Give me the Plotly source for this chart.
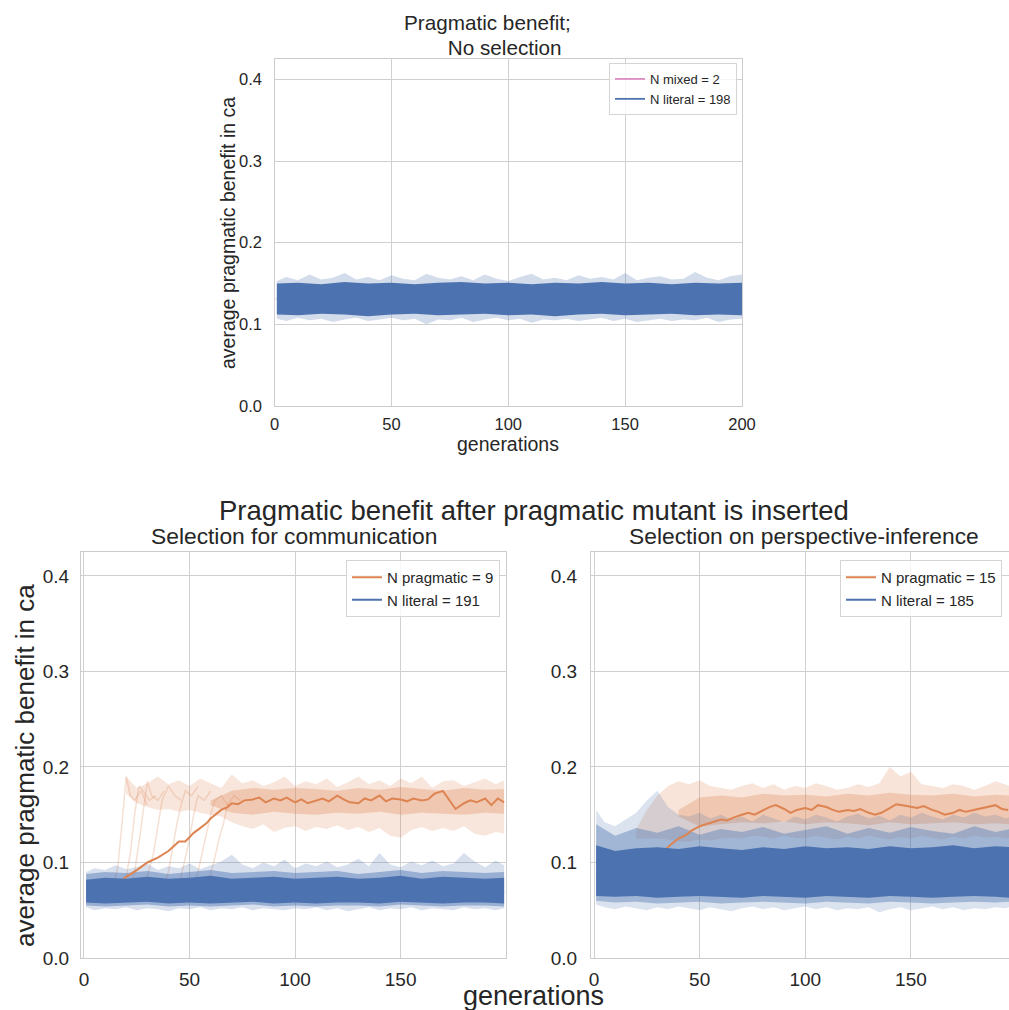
import plotly.graph_objects as go

# ---------------- data ----------------
# Top panel: no selection
top_gens = [1] + list(range(5, 201, 5))
top_upper = [0.153, 0.158, 0.154, 0.161, 0.155, 0.157, 0.163, 0.155, 0.158, 0.154,
             0.160, 0.156, 0.154, 0.162, 0.157, 0.155, 0.159, 0.154, 0.161, 0.156,
             0.153, 0.158, 0.162, 0.155, 0.157, 0.154, 0.160, 0.156, 0.158, 0.155,
             0.163, 0.154, 0.157, 0.159, 0.155, 0.156, 0.164, 0.157, 0.154, 0.159,
             0.161]
top_lower = [0.107, 0.104, 0.108, 0.105, 0.107, 0.103, 0.106, 0.108, 0.104, 0.106,
             0.108, 0.105, 0.107, 0.100, 0.106, 0.105, 0.108, 0.103, 0.106, 0.108,
             0.105, 0.107, 0.102, 0.106, 0.105, 0.107, 0.104, 0.106, 0.108, 0.104,
             0.107, 0.103, 0.105, 0.107, 0.104, 0.106, 0.105, 0.108, 0.103, 0.106,
             0.107]
top_core_gens = [1] + list(range(10, 201, 10))
top_core_upper = [0.150, 0.151, 0.149, 0.152, 0.150, 0.151, 0.149, 0.151, 0.152, 0.150,
                  0.151, 0.149, 0.151, 0.150, 0.152, 0.150, 0.151, 0.149, 0.151, 0.150, 0.151]
top_core_lower = [0.112, 0.111, 0.113, 0.112, 0.110, 0.112, 0.113, 0.111, 0.112, 0.113,
                  0.111, 0.112, 0.110, 0.112, 0.113, 0.111, 0.112, 0.113, 0.111, 0.112, 0.111]
top_literal_mean = [0.131, 0.132, 0.130, 0.131, 0.132, 0.131, 0.130, 0.131, 0.132, 0.131,
                    0.130, 0.131, 0.132, 0.131, 0.130, 0.131, 0.131, 0.132, 0.130, 0.131, 0.131]
top_mixed_mean = [0.133, 0.128, 0.135, 0.130, 0.127, 0.134, 0.131, 0.129, 0.136, 0.130,
                  0.128, 0.133, 0.131, 0.129, 0.134, 0.130, 0.132, 0.128, 0.133, 0.131, 0.130]

# Bottom-left: selection for communication
bl_gens = [1] + list(range(5, 196, 5)) + [199]
bl_upper = [0.090, 0.094, 0.092, 0.097, 0.093, 0.095, 0.099, 0.092, 0.096, 0.094,
            0.099, 0.093, 0.097, 0.101, 0.108, 0.098, 0.094, 0.100, 0.096, 0.103,
            0.094, 0.099, 0.096, 0.101, 0.095, 0.098, 0.104, 0.096, 0.110, 0.098,
            0.095, 0.101, 0.097, 0.102, 0.096, 0.099, 0.110, 0.101, 0.095, 0.102,
            0.097]
bl_lower = [0.053, 0.050, 0.052, 0.051, 0.053, 0.050, 0.052, 0.051, 0.049, 0.052,
            0.051, 0.053, 0.050, 0.052, 0.051, 0.053, 0.050, 0.052, 0.051, 0.050,
            0.052, 0.051, 0.053, 0.050, 0.052, 0.049, 0.051, 0.053, 0.050, 0.052,
            0.051, 0.053, 0.050, 0.052, 0.051, 0.050, 0.053, 0.051, 0.052, 0.050,
            0.052]
bl_core_gens = [1] + list(range(10, 191, 10)) + [199]
bl_mid_upper = [0.088, 0.090, 0.089, 0.091, 0.088, 0.090, 0.092, 0.089, 0.090, 0.091,
                0.089, 0.090, 0.091, 0.088, 0.090, 0.092, 0.089, 0.091, 0.090, 0.089, 0.090]
bl_mid_lower = [0.055, 0.054, 0.055, 0.056, 0.054, 0.055, 0.054, 0.055, 0.056, 0.054,
                0.055, 0.054, 0.055, 0.055, 0.054, 0.056, 0.055, 0.054, 0.055, 0.055, 0.054]
bl_core_upper = [0.082, 0.084, 0.083, 0.085, 0.083, 0.084, 0.086, 0.083, 0.084, 0.085,
                 0.083, 0.084, 0.085, 0.083, 0.084, 0.086, 0.083, 0.085, 0.084, 0.083, 0.084]
bl_core_lower = [0.058, 0.057, 0.058, 0.059, 0.057, 0.058, 0.057, 0.058, 0.059, 0.057,
                 0.058, 0.057, 0.058, 0.058, 0.057, 0.059, 0.058, 0.057, 0.058, 0.058, 0.057]
bl_literal_mean = [0.069, 0.068, 0.070, 0.069, 0.068, 0.069, 0.070, 0.068, 0.069, 0.070,
                   0.069, 0.068, 0.069, 0.070, 0.068, 0.069, 0.070, 0.069, 0.068, 0.069, 0.069]
bl_prag_gens = [17, 20, 25, 30, 35, 40, 43, 45, 48, 50, 52, 55, 58, 60, 62, 65, 68, 70, 73, 76,
                80, 83, 86, 90, 93, 96, 100, 103, 106, 110, 113, 116, 120, 123, 126, 130, 133,
                136, 140, 143, 146, 150, 153, 156, 160, 163, 166, 170, 173, 176, 180, 183, 186,
                190, 193, 196, 199]
bl_prag_mean = [0.080, 0.085, 0.092, 0.100, 0.105, 0.112, 0.118, 0.122, 0.122, 0.127,
                0.131, 0.136, 0.141, 0.146, 0.150, 0.155, 0.158, 0.162, 0.161, 0.165,
                0.166, 0.168, 0.163, 0.167, 0.165, 0.168, 0.163, 0.166, 0.162, 0.165,
                0.167, 0.164, 0.170, 0.166, 0.163, 0.162, 0.167, 0.165, 0.170, 0.164,
                0.167, 0.166, 0.164, 0.167, 0.165, 0.166, 0.172, 0.175, 0.165, 0.156,
                0.162, 0.165, 0.163, 0.167, 0.160, 0.167, 0.163]
bl_cloud_gens = list(range(20, 196, 5)) + [199]
bl_cloud_upper = [0.190, 0.178, 0.183, 0.190, 0.182, 0.186, 0.180, 0.188, 0.183, 0.178,
                  0.192, 0.183, 0.186, 0.180, 0.184, 0.190, 0.180, 0.185, 0.182, 0.188,
                  0.179, 0.184, 0.190, 0.182, 0.186, 0.180, 0.188, 0.183, 0.190, 0.178,
                  0.185, 0.186, 0.180, 0.184, 0.188, 0.182, 0.186]
bl_cloud_lower = [0.172, 0.162, 0.158, 0.155, 0.156, 0.153, 0.155, 0.152, 0.150, 0.148,
                  0.142, 0.138, 0.135, 0.140, 0.132, 0.136, 0.138, 0.133, 0.137, 0.135,
                  0.139, 0.134, 0.137, 0.132, 0.136, 0.128, 0.126, 0.134, 0.137, 0.133,
                  0.136, 0.133, 0.138, 0.130, 0.128, 0.132, 0.130]
bl_inner_gens = list(range(60, 191, 10)) + [199]
bl_inner_upper = [0.165, 0.175, 0.178, 0.176, 0.178, 0.177, 0.175, 0.178, 0.176, 0.179,
                  0.177, 0.175, 0.178, 0.176, 0.177]
bl_inner_lower = [0.160, 0.152, 0.150, 0.153, 0.151, 0.150, 0.152, 0.151, 0.153, 0.150,
                  0.152, 0.151, 0.150, 0.152, 0.151]
bl_rise_gens = [[14, 16, 18, 20, 22, 24, 27, 30],
                [18, 20, 22, 24, 26, 28, 31, 34],
                [22, 24, 26, 28, 30, 32, 35, 38],
                [28, 30, 33, 35, 37, 40, 43, 46],
                [38, 40, 42, 44, 46, 48, 51, 54],
                [44, 46, 48, 50, 52, 54, 57, 60],
                [52, 54, 56, 58, 60, 62, 65, 68],
                [58, 60, 62, 64, 66, 68, 71, 74]]
bl_rise_vals = [[0.075, 0.095, 0.140, 0.190, 0.170, 0.165, 0.175, 0.160],
                [0.072, 0.085, 0.110, 0.150, 0.180, 0.175, 0.165, 0.170],
                [0.075, 0.090, 0.120, 0.155, 0.185, 0.170, 0.165, 0.175],
                [0.073, 0.085, 0.110, 0.140, 0.165, 0.180, 0.170, 0.165],
                [0.075, 0.090, 0.115, 0.140, 0.160, 0.175, 0.170, 0.180],
                [0.072, 0.085, 0.105, 0.125, 0.150, 0.170, 0.165, 0.175],
                [0.075, 0.090, 0.110, 0.130, 0.150, 0.165, 0.170, 0.160],
                [0.074, 0.088, 0.105, 0.125, 0.140, 0.160, 0.170, 0.165]]

# Bottom-right: selection on perspective-inference
br_gens = [1] + list(range(5, 196, 5)) + [197]
br_upper = [0.155, 0.142, 0.138, 0.145, 0.152, 0.165, 0.175, 0.158, 0.150, 0.148,
            0.152, 0.146, 0.150, 0.145, 0.148, 0.143, 0.150, 0.146, 0.142, 0.148,
            0.145, 0.150, 0.147, 0.143, 0.148, 0.151, 0.146, 0.149, 0.144, 0.150,
            0.147, 0.152, 0.148, 0.145, 0.150, 0.147, 0.152, 0.148, 0.150, 0.146,
            0.148]
br_lower = [0.056, 0.053, 0.051, 0.054, 0.052, 0.050, 0.053, 0.051, 0.054, 0.052,
            0.050, 0.053, 0.051, 0.049, 0.052, 0.054, 0.051, 0.053, 0.050, 0.052,
            0.054, 0.051, 0.053, 0.050, 0.052, 0.051, 0.053, 0.048, 0.051, 0.053,
            0.050, 0.052, 0.054, 0.051, 0.053, 0.050, 0.052, 0.051, 0.053, 0.052,
            0.054]
br_core_gens = [1] + list(range(10, 191, 10)) + [197]
br_mid_upper = [0.140, 0.128, 0.136, 0.131, 0.138, 0.129, 0.135, 0.132, 0.137, 0.130,
                0.134, 0.138, 0.130, 0.136, 0.131, 0.137, 0.133, 0.130, 0.138, 0.132, 0.135]
br_mid_lower = [0.060, 0.058, 0.059, 0.057, 0.058, 0.059, 0.057, 0.058, 0.059, 0.058,
                0.057, 0.059, 0.058, 0.057, 0.059, 0.058, 0.057, 0.058, 0.059, 0.058, 0.059]
br_core_upper = [0.118, 0.112, 0.115, 0.116, 0.114, 0.117, 0.115, 0.113, 0.116, 0.114,
                 0.117, 0.115, 0.116, 0.114, 0.117, 0.115, 0.116, 0.118, 0.115, 0.117, 0.116]
br_core_lower = [0.065, 0.064, 0.065, 0.063, 0.064, 0.065, 0.064, 0.063, 0.065, 0.064,
                 0.063, 0.065, 0.064, 0.063, 0.065, 0.064, 0.063, 0.064, 0.065, 0.064, 0.063]
br_literal_mean = [0.088, 0.087, 0.089, 0.088, 0.087, 0.088, 0.089, 0.088, 0.087, 0.088,
                   0.089, 0.088, 0.087, 0.088, 0.089, 0.088, 0.087, 0.088, 0.089, 0.088, 0.088]
br_prag_gens = [20, 25, 30, 33, 36, 40, 43, 46, 50, 53, 56, 60, 63, 66, 70, 73, 76, 80, 83, 86,
                90, 93, 96, 100, 103, 106, 110, 113, 116, 120, 123, 126, 130, 133, 136, 140,
                143, 146, 150, 153, 156, 160, 163, 166, 170, 173, 176, 180, 183, 186, 190,
                193, 196]
br_prag_mean = [0.090, 0.095, 0.105, 0.112, 0.118, 0.125, 0.128, 0.133, 0.138, 0.140,
                0.142, 0.145, 0.144, 0.147, 0.150, 0.152, 0.150, 0.155, 0.158, 0.160,
                0.156, 0.152, 0.155, 0.157, 0.155, 0.160, 0.158, 0.155, 0.153, 0.155,
                0.154, 0.156, 0.152, 0.150, 0.152, 0.157, 0.161, 0.160, 0.158, 0.157,
                0.159, 0.155, 0.153, 0.150, 0.152, 0.155, 0.153, 0.155, 0.157, 0.158,
                0.160, 0.156, 0.155]
br_cloud_gens = list(range(20, 196, 5)) + [197]
br_cloud_upper = [0.135, 0.155, 0.170, 0.180, 0.185, 0.182, 0.186, 0.180, 0.178,
                  0.176, 0.180, 0.183, 0.178, 0.182, 0.176, 0.180, 0.178, 0.183, 0.180,
                  0.176, 0.178, 0.182, 0.179, 0.183, 0.200, 0.190, 0.195, 0.182, 0.180,
                  0.178, 0.182, 0.180, 0.176, 0.180, 0.185, 0.182, 0.180]
br_cloud_lower = [0.125, 0.125, 0.125, 0.124, 0.122, 0.122, 0.124, 0.123, 0.125,
                  0.126, 0.125, 0.128, 0.127, 0.125, 0.128, 0.126, 0.125, 0.128, 0.126,
                  0.124, 0.127, 0.125, 0.128, 0.126, 0.124, 0.127, 0.125, 0.128, 0.126,
                  0.124, 0.127, 0.125, 0.128, 0.126, 0.127, 0.125, 0.126]
br_inner_gens = list(range(40, 191, 10)) + [197]
br_inner_upper = [0.155, 0.168, 0.170, 0.168, 0.172, 0.170, 0.171, 0.169, 0.172, 0.170,
                  0.173, 0.171, 0.170, 0.172, 0.169, 0.171, 0.170]
br_inner_lower = [0.148, 0.138, 0.140, 0.142, 0.141, 0.143, 0.140, 0.142, 0.141, 0.139,
                  0.142, 0.140, 0.141, 0.142, 0.140, 0.141, 0.140]

y_ticks = [0.0, 0.1, 0.2, 0.3, 0.4]
y_ticklabels = ["0.0", "0.1", "0.2", "0.3", "0.4"]
top_x_ticks = [0, 50, 100, 150, 200]
bottom_x_ticks = [0, 50, 100, 150]

legend_top = ["N mixed = 2", "N literal = 198"]
legend_bl = ["N pragmatic = 9", "N literal = 191"]
legend_br = ["N pragmatic = 15", "N literal = 185"]

# ---------------- styling ----------------
W, H = 1009, 1010
FONT = "Liberation Sans, Arial, sans-serif"
TXT = "#262626"
BLUE = (76, 114, 176)
ORANGE = (221, 132, 82)
PINK = (218, 139, 195)


def rgba(c, a):
    return "rgba(%d,%d,%d,%s)" % (c[0], c[1], c[2], a)


def px(x):
    return x / W


def py(y):
    return 1 - y / H


fig = go.Figure()


def band(xs, lo, hi, color, alpha, ax):
    assert len(xs) == len(lo) == len(hi)
    fig.add_trace(go.Scatter(
        x=list(xs) + list(xs)[::-1], y=list(hi) + list(lo)[::-1],
        fill="toself", fillcolor=rgba(color, alpha), line=dict(width=0),
        mode="lines", hoverinfo="skip", showlegend=False,
        xaxis="x" + ax, yaxis="y" + ax))


def line(xs, ys, color, alpha, width, ax, name=None, legend=None, rank=None):
    assert len(xs) == len(ys)
    kw = dict(showlegend=False)
    if name is not None:
        kw = dict(showlegend=True, name=name, legend=legend, legendrank=rank)
    fig.add_trace(go.Scatter(
        x=xs, y=ys, mode="lines", line=dict(color=rgba(color, alpha), width=width),
        hoverinfo="skip", xaxis="x" + ax, yaxis="y" + ax, **kw))


# top panel
line(top_core_gens, top_mixed_mean, PINK, 1, 1.8, "", legend_top[0], "legend", 1)
band(top_gens, top_lower, top_upper, BLUE, 0.25, "")
band(top_core_gens, top_core_lower, top_core_upper, BLUE, 1, "")
line(top_core_gens, top_literal_mean, BLUE, 1, 1.8, "", legend_top[1], "legend", 2)

# bottom-left panel
band(bl_cloud_gens, bl_cloud_lower, bl_cloud_upper, ORANGE, 0.2, "2")
band(bl_inner_gens, bl_inner_lower, bl_inner_upper, ORANGE, 0.3, "2")
for g, v in zip(bl_rise_gens, bl_rise_vals):
    line(g, v, ORANGE, 0.25, 1.5, "2")
band(bl_gens, bl_lower, bl_upper, BLUE, 0.22, "2")
band(bl_core_gens, bl_mid_lower, bl_mid_upper, BLUE, 0.45, "2")
line(bl_prag_gens, bl_prag_mean, ORANGE, 1, 2, "2", legend_bl[0], "legend2", 1)
band(bl_core_gens, bl_core_lower, bl_core_upper, BLUE, 1, "2")
line(bl_core_gens, bl_literal_mean, BLUE, 1, 2, "2", legend_bl[1], "legend2", 2)

# bottom-right panel
band(br_cloud_gens, br_cloud_lower, br_cloud_upper, ORANGE, 0.22, "3")
band(br_inner_gens, br_inner_lower, br_inner_upper, ORANGE, 0.3, "3")
band(br_gens, br_lower, br_upper, BLUE, 0.2, "3")
band(br_core_gens, br_mid_lower, br_mid_upper, BLUE, 0.4, "3")
line(br_prag_gens, br_prag_mean, ORANGE, 1, 2, "3", legend_br[0], "legend3", 1)
band(br_core_gens, br_core_lower, br_core_upper, BLUE, 1, "3")
line(br_core_gens, br_literal_mean, BLUE, 1, 2, "3", legend_br[1], "legend3", 2)


def axis(domain, rng, ticks, labels, size, anchor, mirror=True, standoff=4):
    return dict(domain=domain, range=rng, tickvals=ticks, ticktext=labels,
                showgrid=True, gridcolor="#d0d0d0", gridwidth=1, zeroline=False,
                showline=True, linecolor="#cccccc", linewidth=1.3, mirror=mirror,
                ticks="", tickfont=dict(family=FONT, size=size, color=TXT),
                anchor=anchor, ticklabelstandoff=standoff, fixedrange=True,
                automargin=False)


top_x_dom = [px(274.5), px(742)]
top_y_dom = [py(406), py(59)]
bl_x_dom = [px(81), px(506)]
br_x_dom = [px(591), 1.0]
bot_y_dom = [py(958), py(552)]

fig.update_layout(
    xaxis=axis(top_x_dom, [0, 200], top_x_ticks, [str(t) for t in top_x_ticks], 16.5, "y", standoff=3),
    yaxis=axis(top_y_dom, [0, 0.425], y_ticks, y_ticklabels, 16.5, "x", standoff=8),
    xaxis2=axis(bl_x_dom, [-1.4, 199.9], bottom_x_ticks, [str(t) for t in bottom_x_ticks], 19, "y2", standoff=4),
    yaxis2=axis(bot_y_dom, [0, 0.425], y_ticks, y_ticklabels, 19, "x2", standoff=7),
    xaxis3=axis(br_x_dom, [-1.42, 196.4], bottom_x_ticks, [str(t) for t in bottom_x_ticks], 19, "y3", standoff=4),
    yaxis3=axis(bot_y_dom, [0, 0.425], y_ticks, y_ticklabels, 19, "x3", mirror=False, standoff=9),
)

leg_common = dict(xanchor="right", yanchor="top", bgcolor="rgba(255,255,255,0.8)",
                  bordercolor="#d5d5d5", borderwidth=1, tracegroupgap=0, itemwidth=30)
fig.update_layout(
    legend=dict(x=px(737), y=py(63), font=dict(family=FONT, size=13, color=TXT), **leg_common),
    legend2=dict(x=px(500), y=py(560), font=dict(family=FONT, size=15, color=TXT), **leg_common),
    legend3=dict(x=px(1002), y=py(560), font=dict(family=FONT, size=15, color=TXT), **leg_common),
)

annotations = [
    dict(text="Pragmatic benefit;", x=px(487), y=py(22), size=20.7),
    dict(text=" No selection", x=px(502), y=py(47), size=20.7),
    dict(text="generations", x=px(508), y=py(444), size=19.5),
    dict(text="average pragmatic benefit in ca", x=px(228), y=py(233), size=19.5, angle=-90),
    dict(text="Pragmatic benefit after pragmatic mutant is inserted", x=px(534), y=py(510), size=27.5),
    dict(text="Selection for communication", x=px(294), y=py(536), size=22.8),
    dict(text="Selection on perspective-inference", x=px(803.5), y=py(536), size=22.8),
    dict(text="average pragmatic benefit in ca", x=px(25), y=py(766), size=26, angle=-90),
    dict(text="generations", x=px(533), y=py(996), size=27),
]
fig.update_layout(annotations=[
    dict(text=a["text"], x=a["x"], y=a["y"], xref="paper", yref="paper",
         xanchor="center", yanchor="middle", showarrow=False,
         textangle=a.get("angle", 0),
         font=dict(family=FONT, size=a["size"], color=TXT))
    for a in annotations
])

fig.update_layout(width=W, height=H, margin=dict(l=0, r=0, t=0, b=0, pad=0),
                  plot_bgcolor="white", paper_bgcolor="white", hovermode=False)

fig.write_html("out.html", config={"displayModeBar": False},
               post_script="document.documentElement.style.margin='0';"
                           "document.body.style.margin='0';"
                           "document.body.style.padding='0';"
                           "document.documentElement.style.overflow='hidden';"
                           "document.body.style.overflow='hidden';")
